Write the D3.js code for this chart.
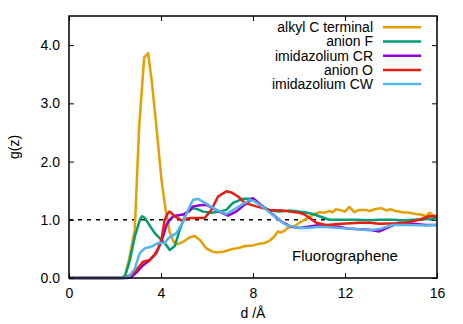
<!DOCTYPE html>
<html>
<head>
<meta charset="utf-8">
<script src="https://cdn.jsdelivr.net/npm/d3@7"></script>
<style>
  body { margin: 0; background: #fff; }
  svg { display: block; font-family: "Liberation Sans", Arial, sans-serif; }
</style>
</head>
<body>
<svg id="chart" width="463" height="324"></svg>
<script>
// d in Å, g(z)
const alkylD = [0, 2.3, 2.43, 2.6, 2.86, 3.05, 3.27, 3.44, 3.59, 3.8, 4.02, 4.2, 4.38, 4.55, 4.74, 5.0, 5.25, 5.47, 5.7, 5.97, 6.2, 6.4, 6.7, 7.13, 7.42, 7.64, 8.0, 8.29, 8.5, 8.72, 8.9, 9.08, 9.2, 9.37, 9.5, 9.66, 9.85, 10.02, 10.24, 10.5, 10.7, 10.89, 11.1, 11.3, 11.47, 11.6, 11.76, 12.0, 12.19, 12.4, 12.62, 12.9, 13.06, 13.3, 13.57, 13.8, 14.0, 14.2, 14.5, 14.8, 15.08, 15.3, 15.52, 15.69, 15.85, 16.0];
const alkylG = [0, 0, 0.03, 0.3, 0.83, 2.6, 3.79, 3.86, 3.41, 2.6, 1.69, 1.17, 0.78, 0.62, 0.58, 0.63, 0.7, 0.72, 0.65, 0.51, 0.46, 0.44, 0.45, 0.5, 0.52, 0.55, 0.56, 0.59, 0.6, 0.64, 0.7, 0.8, 0.78, 0.81, 0.86, 0.88, 0.9, 0.95, 1.0, 1.06, 1.1, 1.13, 1.12, 1.15, 1.13, 1.18, 1.17, 1.14, 1.22, 1.13, 1.17, 1.17, 1.15, 1.18, 1.2, 1.16, 1.18, 1.15, 1.13, 1.12, 1.1, 1.09, 1.06, 1.12, 1.07, 1.07];

const anionFD = [0, 2.3, 2.45, 2.65, 2.86, 3.08, 3.18, 3.3, 3.51, 3.73, 3.95, 4.16, 4.38, 4.6, 4.82, 5.1, 5.39, 5.6, 5.83, 6.19, 6.55, 6.84, 7.13, 7.56, 7.93, 8.29, 8.72, 9.15, 9.59, 10.02, 10.24, 10.6, 10.89, 11.32, 11.8, 12.48, 13.06, 13.5, 14.0, 14.5, 15.0, 15.5, 16.0];
const anionFG = [0, 0, 0.05, 0.31, 0.71, 1.0, 1.06, 1.03, 0.9, 0.77, 0.68, 0.6, 0.48, 0.55, 0.83, 1.12, 1.2, 1.18, 1.14, 1.12, 1.14, 1.17, 1.29, 1.36, 1.36, 1.26, 1.16, 1.14, 1.16, 1.14, 1.13, 1.1, 1.06, 1.0, 1.0, 1.0, 0.99, 1.0, 1.0, 0.99, 1.0, 1.01, 1.03];

const imidCRD = [0, 2.55, 2.72, 2.95, 3.22, 3.5, 3.73, 3.9, 4.09, 4.24, 4.38, 4.53, 4.96, 5.2, 5.39, 5.7, 5.97, 6.25, 6.55, 6.91, 7.27, 7.6, 8.0, 8.43, 8.86, 9.23, 9.66, 10.02, 10.4, 10.89, 11.3, 11.76, 12.1, 12.48, 13.06, 13.49, 13.93, 14.36, 14.94, 15.52, 16.0];
const imidCRG = [0, 0, 0.02, 0.1, 0.22, 0.3, 0.4, 0.52, 0.71, 0.91, 1.0, 1.06, 1.09, 1.14, 1.23, 1.25, 1.26, 1.2, 1.14, 1.07, 1.14, 1.25, 1.37, 1.23, 1.09, 0.97, 0.88, 0.86, 0.88, 0.91, 0.89, 0.88, 0.85, 0.84, 0.83, 0.8, 0.88, 0.95, 0.93, 0.91, 0.91];

const anionOD = [0, 2.4, 2.5, 2.7, 2.94, 3.22, 3.51, 3.8, 4.02, 4.16, 4.31, 4.38, 4.6, 4.89, 5.25, 5.6, 5.9, 6.19, 6.48, 6.77, 6.84, 7.06, 7.35, 7.64, 8.14, 8.72, 9.3, 9.59, 10.02, 10.24, 10.5, 10.75, 11.18, 11.9, 12.62, 13.06, 13.49, 14.36, 14.8, 15.23, 15.66, 16.0];
const anionOG = [0, 0, 0.02, 0.06, 0.14, 0.28, 0.31, 0.43, 0.66, 1.0, 1.12, 1.14, 1.06, 0.99, 1.03, 1.03, 1.03, 1.17, 1.4, 1.47, 1.49, 1.47, 1.4, 1.29, 1.23, 1.17, 1.16, 1.14, 1.12, 1.09, 1.02, 0.95, 0.91, 0.93, 0.95, 0.95, 0.93, 0.94, 0.96, 1.0, 1.06, 1.06];

const imidCWD = [0, 2.4, 2.6, 2.85, 3.08, 3.3, 3.59, 3.87, 4.16, 4.31, 4.67, 4.96, 5.25, 5.39, 5.61, 6.04, 6.41, 6.84, 7.27, 7.85, 8.07, 8.5, 9.01, 9.44, 10.02, 10.4, 10.89, 11.3, 11.76, 12.48, 13.06, 13.49, 14.07, 14.79, 15.52, 16.0];
const imidCWG = [0, 0, 0.02, 0.15, 0.43, 0.51, 0.54, 0.6, 0.6, 0.68, 0.77, 0.97, 1.23, 1.34, 1.36, 1.26, 1.17, 1.1, 1.2, 1.34, 1.32, 1.2, 1.03, 0.91, 0.86, 0.86, 0.88, 0.87, 0.86, 0.84, 0.82, 0.84, 0.91, 0.91, 0.9, 0.91];

const seriesNames = ["alkyl C terminal", "anion F", "imidazolium CR", "anion O", "imidazolium CW"];
const seriesColors = ["#E69F00", "#009E73", "#9400D3", "#E51E10", "#56B4E9"];
const xTicks = [0, 4, 8, 12, 16];
const yTicks = [0, 1, 2, 3, 4];

const W = 463, H = 324;
const margin = {top: 16, right: 26, bottom: 46, left: 69};

const svg = d3.select("#chart");

const x = d3.scaleLinear().domain([0, 16]).range([margin.left, W - margin.right]);
const y = d3.scaleLinear().domain([0, 4.5]).range([H - margin.bottom, margin.top]);

const series = [
    [alkylD, alkylG],
    [anionFD, anionFG],
    [imidCRD, imidCRG],
    [anionOD, anionOG],
    [imidCWD, imidCWG]
].map(([ds, gs], i) => ({
    name: seriesNames[i],
    color: seriesColors[i],
    pts: ds.map((d, j) => [d, gs[j]])
}));

// reference line at g = 1
svg.append("line")
    .attr("x1", x(0)).attr("x2", x(16))
    .attr("y1", y(1)).attr("y2", y(1))
    .attr("stroke", "#000")
    .attr("stroke-width", 1.5)
    .attr("stroke-dasharray", "4,5");

const line = d3.line()
    .x(d => x(d[0]))
    .y(d => y(d[1]));

svg.append("g")
    .attr("fill", "none")
    .attr("stroke-width", 2.5)
    .attr("stroke-linejoin", "round")
    .selectAll("path")
    .data(series)
    .join("path")
    .attr("stroke", d => d.color)
    .attr("d", d => line(d.pts));

// axes, gnuplot style: inward ticks on all four sides
const tickLen = 5;
svg.append("g")
    .attr("transform", `translate(0,${y(0)})`)
    .call(d3.axisBottom(x).tickValues(xTicks).tickSize(-tickLen).tickPadding(10).tickFormat(d3.format("d")));
svg.append("g")
    .attr("transform", `translate(0,${y(4.5)})`)
    .call(d3.axisTop(x).tickValues(xTicks).tickSize(-tickLen).tickFormat(""));
svg.append("g")
    .attr("transform", `translate(${x(0)},0)`)
    .call(d3.axisLeft(y).tickValues(yTicks).tickSize(-tickLen).tickPadding(9).tickFormat(d3.format(".1f")));
svg.append("g")
    .attr("transform", `translate(${x(16)},0)`)
    .call(d3.axisRight(y).tickValues(yTicks).tickSize(-tickLen).tickFormat(""));

svg.selectAll(".domain").remove();
svg.selectAll(".tick line").attr("stroke", "#000").attr("stroke-width", 1);
svg.selectAll(".tick text").attr("font-size", 14).attr("font-family", "Liberation Sans, Arial, sans-serif").attr("fill", "#000");

svg.append("rect")
    .attr("x", x(0)).attr("y", y(4.5))
    .attr("width", x(16) - x(0)).attr("height", y(0) - y(4.5))
    .attr("fill", "none")
    .attr("stroke", "#000")
    .attr("stroke-width", 1.5);

// axis titles
svg.append("text")
    .attr("x", (x(0) + x(16)) / 2).attr("y", 318)
    .attr("text-anchor", "middle")
    .attr("font-size", 14)
    .text("d /Å");

svg.append("text")
    .attr("transform", `translate(19,${(y(0) + y(4.5)) / 2}) rotate(-90)`)
    .attr("text-anchor", "middle")
    .attr("font-size", 14)
    .text("g(z)");

// legend
const legend = svg.append("g")
    .selectAll("g")
    .data(series)
    .join("g")
    .attr("transform", (d, i) => `translate(0,${27.3 + i * 14.2})`);
legend.append("text")
    .attr("x", 373).attr("dy", "0.35em")
    .attr("text-anchor", "end")
    .attr("font-size", 14)
    .text(d => d.name);
legend.append("line")
    .attr("x1", 383).attr("x2", 421)
    .attr("stroke", d => d.color)
    .attr("stroke-width", 2.5);

svg.append("text")
    .attr("x", 292).attr("y", 261)
    .attr("font-size", 15)
    .text("Fluorographene");
</script>
</body>
</html>
